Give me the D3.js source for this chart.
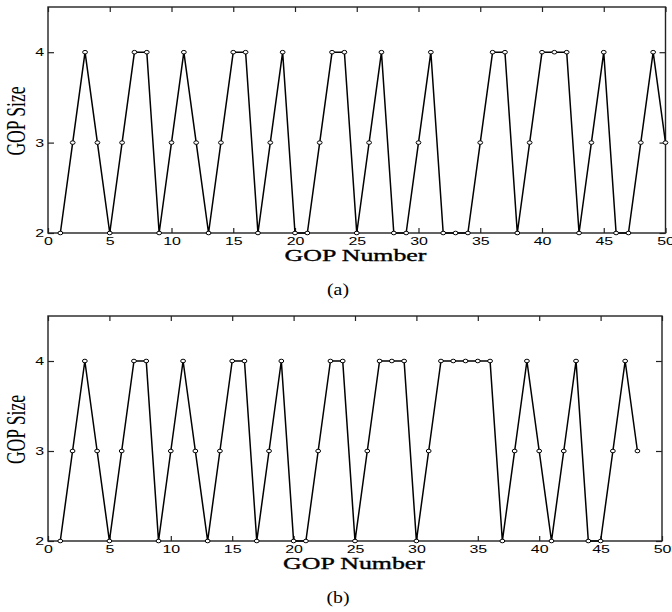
<!DOCTYPE html>
<html>
<head>
<meta charset="utf-8">
<script src="https://cdn.jsdelivr.net/npm/d3@7"></script>
<style>
	body { margin: 0; background: #fff; }
	svg { display: block; }
	.tick text { font-family: "Liberation Sans", Arial, sans-serif; font-size: 11px; fill: #000; }
	.tick line { stroke: #222; stroke-width: 1.2; }
	.axis-title { font-family: "Liberation Serif", "Times New Roman", serif; fill: #000; }
</style>
</head>
<body>
<svg id="chart" width="672" height="612"></svg>
<script>
// GOP number (x) for each panel
const gopNumbersA = d3.range(1, 51);
const gopNumbersB = d3.range(1, 49);

// GOP size, panel (a)
const gopSizeA = [
	2, 3, 4, 3, 2, 3, 4, 4, 2, 3,
	4, 3, 2, 3, 4, 4, 2, 3, 4, 2,
	2, 3, 4, 4, 2, 3, 4, 2, 2, 3,
	4, 2, 2, 2, 3, 4, 4, 2, 3, 4,
	4, 4, 2, 3, 4, 2, 2, 3, 4, 3
];

// GOP size, panel (b)
const gopSizeB = [
	2, 3, 4, 3, 2, 3, 4, 4, 2, 3,
	4, 3, 2, 3, 4, 4, 2, 3, 4, 2,
	2, 3, 4, 4, 2, 3, 4, 4, 4, 2,
	3, 4, 4, 4, 4, 4, 2, 3, 4, 3,
	2, 3, 4, 2, 2, 3, 4, 3
];

const xTicks = [0, 5, 10, 15, 20, 25, 30, 35, 40, 45, 50];
const yTicks = [2, 3, 4];
const xDomain = [0, 50];
const yDomain = [2, 4.5];
const xTitle = 'GOP Number';
const yTitle = 'GOP Size';

// the original figure is stretched sideways, text too
const STRETCH = 1.45;

const svg = d3.select('#chart');

function drawPanel(box, xs, ys, caption) {
	const x = d3.scaleLinear().domain(xDomain).range([box.left, box.right]);
	const y = d3.scaleLinear().domain(yDomain).range([box.bottom, box.top]);
	const g = svg.append('g');

	// bottom axis with labels, ticks pointing inside
	const xAxis = g.append('g')
		.attr('transform', `translate(0, ${box.bottom})`)
		.call(d3.axisBottom(x).tickValues(xTicks).tickFormat(d3.format('d')).tickSizeInner(-5).tickSizeOuter(0));
	xAxis.selectAll('text').attr('y', 4).attr('transform', `scale(${STRETCH},1)`);

	// top axis, ticks only
	g.append('g')
		.attr('transform', `translate(0, ${box.top})`)
		.call(d3.axisTop(x).tickValues(xTicks).tickSizeInner(-5).tickSizeOuter(0).tickFormat(''));

	// left axis with labels
	const yAxis = g.append('g')
		.attr('transform', `translate(${box.left}, 0)`)
		.call(d3.axisLeft(y).tickValues(yTicks).tickFormat(d3.format('d')).tickSizeInner(-6).tickSizeOuter(0));
	yAxis.selectAll('text').attr('x', -4 / STRETCH).attr('transform', `scale(${STRETCH},1)`);

	// right axis, ticks only
	g.append('g')
		.attr('transform', `translate(${box.right}, 0)`)
		.call(d3.axisRight(y).tickValues(yTicks).tickSizeInner(-6).tickSizeOuter(0).tickFormat(''));

	g.selectAll('.domain').remove();

	// frame
	g.append('rect')
		.attr('x', box.left)
		.attr('y', box.top)
		.attr('width', box.right - box.left)
		.attr('height', box.bottom - box.top)
		.attr('fill', 'none')
		.attr('stroke', '#222')
		.attr('stroke-width', 1.4);

	const pts = xs.map((v, i) => ({n: v, s: ys[i]}));

	g.append('path')
		.datum(pts)
		.attr('fill', 'none')
		.attr('stroke', '#000')
		.attr('stroke-width', 1.5)
		.attr('stroke-linejoin', 'round')
		.attr('d', d3.line().x((p) => x(p.n)).y((p) => y(p.s)));

	g.append('g')
		.selectAll('ellipse')
		.data(pts)
		.enter()
		.append('ellipse')
		.attr('cx', (p) => x(p.n))
		.attr('cy', (p) => y(p.s))
		.attr('rx', 2.4)
		.attr('ry', 1.8)
		.attr('fill', '#fff')
		.attr('stroke', '#000')
		.attr('stroke-width', 1);

	// axis titles
	g.append('text')
		.attr('class', 'axis-title')
		.attr('transform', `translate(${box.xTitleX}, ${box.bottom + 28}) scale(1.52,1)`)
		.attr('text-anchor', 'middle')
		.style('font-size', '17px')
		.style('stroke', '#000')
		.style('stroke-width', 0.35)
		.text(xTitle);

	g.append('text')
		.attr('class', 'axis-title')
		.attr('transform', `translate(25, ${(box.top + box.bottom) / 2 + 1}) rotate(-90) scale(1,1.5)`)
		.attr('text-anchor', 'middle')
		.style('font-size', '17.6px')
		.text(yTitle);

	g.append('text')
		.attr('class', 'axis-title')
		.attr('transform', `translate(338, ${box.bottom + 62}) scale(1.2,1)`)
		.attr('text-anchor', 'middle')
		.style('font-size', '16.5px')
		.text(caption);
}

drawPanel({left: 48, right: 665.5, top: 7, bottom: 233, xTitleX: 355.5}, gopNumbersA, gopSizeA, '(a)');
drawPanel({left: 48, right: 662, top: 316, bottom: 541, xTitleX: 354}, gopNumbersB, gopSizeB, '(b)');
</script>
</body>
</html>
